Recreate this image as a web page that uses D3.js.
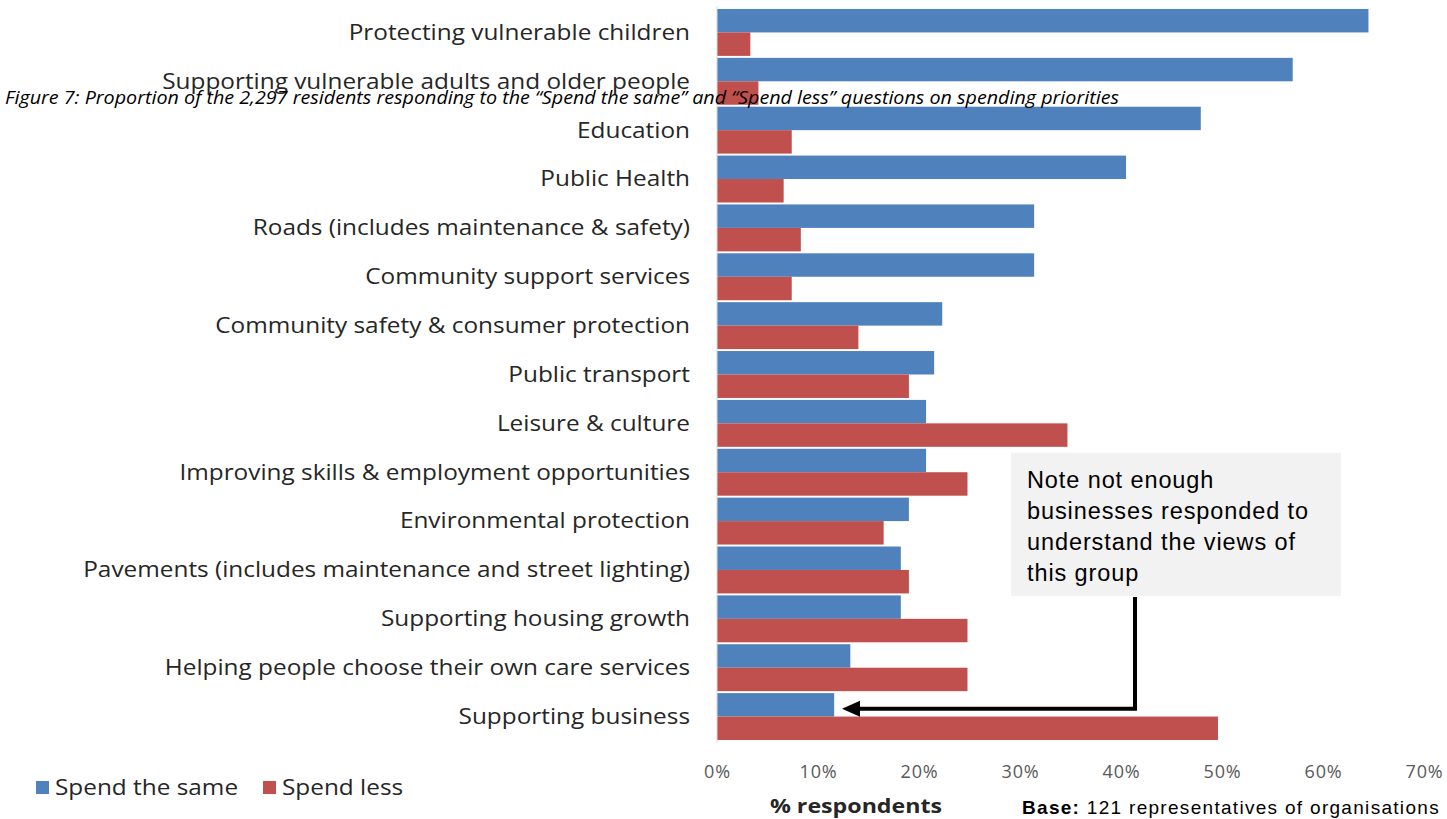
<!DOCTYPE html>
<html><head><meta charset="utf-8">
<script src="https://cdn.jsdelivr.net/npm/d3@7"></script>
<style>body{margin:0;background:#fff;}svg{display:block;}</style>
</head><body>
<svg id="c" width="1447" height="819"></svg>
<script>
const categories = ["Protecting vulnerable children","Supporting vulnerable adults and older people","Education","Public Health","Roads (includes maintenance & safety)","Community support services","Community safety & consumer protection","Public transport","Leisure & culture","Improving skills & employment opportunities","Environmental protection","Pavements (includes maintenance and street lighting)","Supporting housing growth","Helping people choose their own care services","Supporting business"];
const spendSame = [64.5,57.0,47.9,40.5,31.4,31.4,22.3,21.5,20.7,20.7,19.0,18.2,18.2,13.2,11.6];
const spendLess = [3.3,4.1,7.4,6.6,8.3,7.4,14.0,19.0,34.7,24.8,16.5,19.0,24.8,24.8,49.6];
const seriesNames = ["Spend the same","Spend less"];
const tickValues = [0,10,20,30,40,50,60,70];
const noteLines = ["Note not enough","businesses responded to","understand the views of","this group"];
const colors = ["#4F81BD","#C0504D"];

const svg = d3.select("#c");
const x = d3.scaleLinear().domain([0,70]).range([717,1424]);
const y = d3.scaleBand().domain(categories).range([8,741]).paddingInner(0.04).paddingOuter(0.02);
const sub = d3.scaleBand().domain([0,1]).range([0,y.bandwidth()]).padding(0);
const stretch = 1.16;

// bars
const g = svg.append("g");
categories.forEach((c,i)=>{
  [spendSame[i],spendLess[i]].forEach((v,j)=>{
    g.append("rect").attr("x",x(0)).attr("y",y(c)+sub(j))
     .attr("width",x(v)-x(0)).attr("height",sub.bandwidth())
     .attr("fill",colors[j]);
  });
});
// axis line
svg.append("line").attr("x1",x(0)).attr("x2",x(0)).attr("y1",6).attr("y2",743).attr("stroke","#d9d9d9").attr("stroke-width",1);

// category labels
svg.append("g").selectAll("text").data(categories).join("text")
  .attr("transform",d=>`translate(690,${y(d)+y.bandwidth()/2}) scale(${stretch},1)`)
  .attr("dy","0.35em")
  .attr("text-anchor","end").attr("font-family","Open Sans").attr("font-size",21)
  .attr("fill","#262626")
  .text(d=>d);

// x axis tick labels
const xa = d3.axisBottom(x).tickValues(tickValues).tickFormat(d=>d+"%").tickSize(0).tickPadding(0);
const ag = svg.append("g").attr("transform","translate(0,765)").call(xa);
ag.select(".domain").remove();
ag.selectAll("text").attr("font-family","Open Sans").attr("font-size",18).attr("letter-spacing","0.8px").attr("fill","#595959");

svg.append("text").attr("transform",`translate(856,813) scale(${stretch},1)`).attr("text-anchor","middle")
  .attr("font-family","Open Sans").attr("font-weight","bold").attr("font-size",20)
  .attr("fill","#262626").text("% respondents");

const base = svg.append("text").attr("x",1022).attr("y",814).attr("font-family","Liberation Sans").attr("font-size",19)
  .attr("letter-spacing","1.3px").attr("fill","#000");
base.append("tspan").attr("font-weight","bold").text("Base:");
base.append("tspan").text(" 121 representatives of organisations");

// legend
const lg = svg.append("g");
seriesNames.forEach((s,i)=>{
  const lx = [36,263][i];
  lg.append("rect").attr("x",lx).attr("y",781).attr("width",13).attr("height",13).attr("fill",colors[i]);
  lg.append("text").attr("transform",`translate(${lx+19},788) scale(${stretch},1)`).attr("dy","0.35em")
    .attr("font-family","Open Sans").attr("font-size",21)
    .attr("fill","#262626").text(s);
});

// figure caption
svg.append("text").attr("x",5).attr("y",104).attr("font-family","Open Sans").attr("font-style","italic")
  .attr("font-size",19).attr("textLength",1114).attr("lengthAdjust","spacingAndGlyphs").attr("fill","#000")
  .text("Figure 7: Proportion of the 2,297 residents responding to the \u201cSpend the same\u201d and \u201cSpend less\u201d questions on spending priorities");

// note box
svg.append("rect").attr("x",1011).attr("y",453).attr("width",330).attr("height",143).attr("fill","#f2f2f2");
svg.append("g").selectAll("text").data(noteLines).join("text")
  .attr("x",1027).attr("y",(d,i)=>488+i*31).attr("font-family","Liberation Sans").attr("font-size",23.5)
  .attr("letter-spacing","0.9px").attr("fill","#000").text(d=>d);

// arrow
const by = y("Supporting business")+sub(0)+sub.bandwidth()/2+4;
svg.append("path").attr("d",`M1135,597 L1135,${by} L858,${by}`).attr("fill","none").attr("stroke","#000").attr("stroke-width",4);
svg.append("path").attr("d",`M842,${by} L860,${by-8} L860,${by+8} Z`).attr("fill","#000");
</script>
</body></html>
